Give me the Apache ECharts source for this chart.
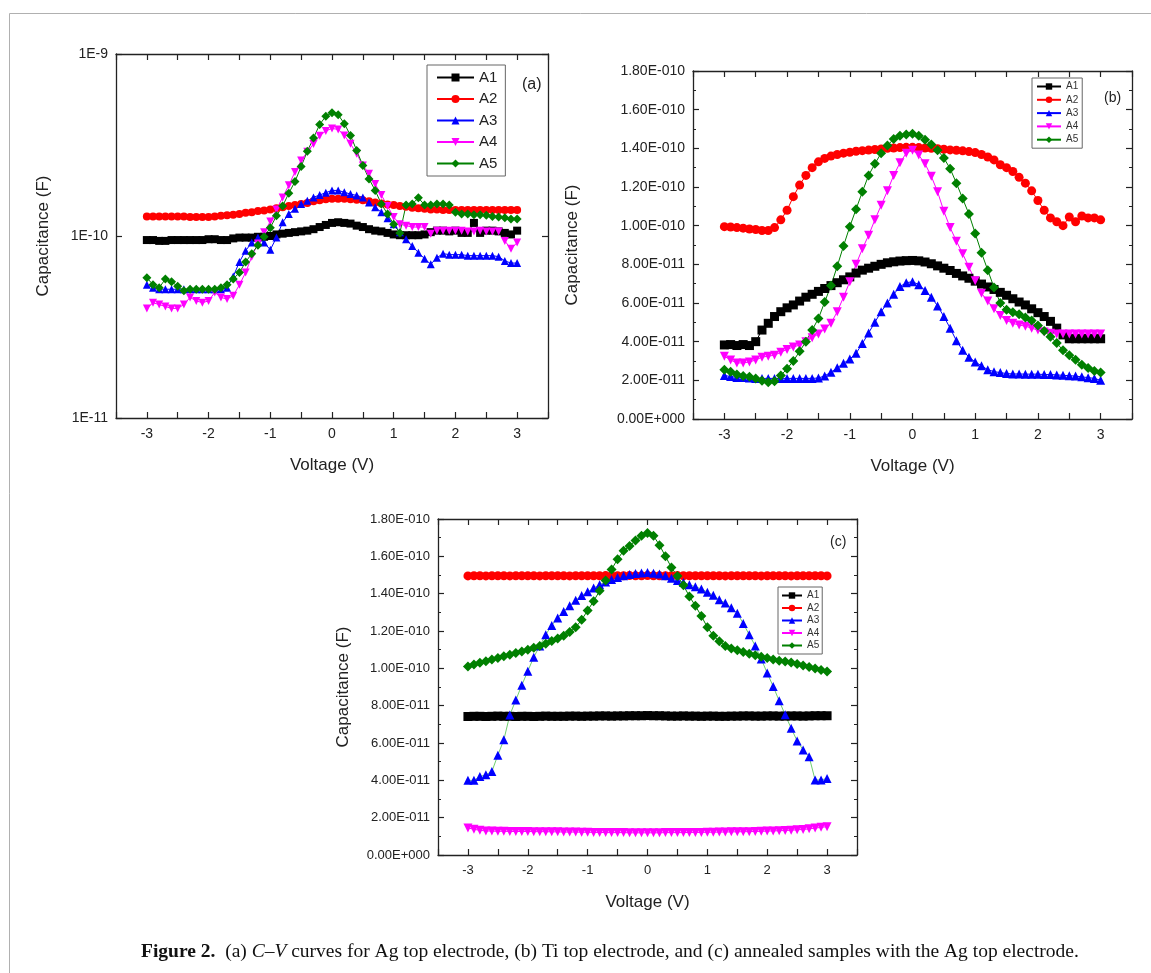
<!DOCTYPE html>
<html>
<head>
<meta charset="utf-8">
<title>Figure 2 - C-V curves</title>
<script src="https://cdn.jsdelivr.net/npm/echarts@6/dist/echarts.min.js"></script>
<style>
  html, body { margin: 0; padding: 0; background: #fff; }
  #chart { width: 1151px; height: 973px; }
</style>
</head>
<body>
<div id="chart"></div>
<script>
// voltage sweep (V), same for all panels
const volts = [-3.0, -2.9, -2.8, -2.7, -2.6, -2.5, -2.4, -2.3, -2.2, -2.1,
  -2.0, -1.9, -1.8, -1.7, -1.6, -1.5, -1.4, -1.3, -1.2, -1.1,
  -1.0, -0.9, -0.8, -0.7, -0.6, -0.5, -0.4, -0.3, -0.2, -0.1,
  0.0, 0.1, 0.2, 0.3, 0.4, 0.5, 0.6, 0.7, 0.8, 0.9,
  1.0, 1.1, 1.2, 1.3, 1.4, 1.5, 1.6, 1.7, 1.8, 1.9,
  2.0, 2.1, 2.2, 2.3, 2.4, 2.5, 2.6, 2.7, 2.8, 2.9, 3.0];

// capacitances are in pF (1 pF = 1E-12 F)
// (a) Ag top electrode
const agA1 = [95, 95, 94, 94, 95, 95, 95, 95, 95, 95, 96, 96, 95, 95, 97, 98, 98, 98, 99, 99,
  100, 102, 103, 104, 105, 106, 107, 109, 112, 115, 118, 119, 118, 117, 114, 112, 109, 107, 106, 104,
  102, 101, 101, 101, 101, 102, 105, 107, 107, 106, 107, 104, 104, 118, 104, 107, 107, 106, 104, 102, 107];
const agA2 = [128, 128, 128, 128, 128, 128, 128, 127, 127, 127, 127, 128, 129, 130, 131, 132, 134, 135, 137, 138,
  140, 142, 144, 146, 148, 150, 152, 155, 157, 159, 160, 160, 160, 159, 158, 157, 155, 153, 151, 149,
  148, 146, 145, 143, 142, 141, 140, 140, 139, 139, 139, 139, 139, 139, 139, 139, 139, 139, 139, 139, 139];
const agA3 = [54, 52, 51, 51, 51, 51, 51, 51, 51, 51, 51, 51, 51, 52, 60, 72, 83, 92, 98, 92,
  84, 98, 119, 132, 141, 150, 156, 163, 168, 173, 178, 178, 174, 170, 167, 163, 153, 144, 135, 125,
  116, 105, 96, 88, 81, 75, 70, 76, 80, 79, 79, 79, 78, 78, 78, 78, 78, 77, 73, 71, 71];
const agA4 = [40, 43, 42, 41, 40, 40, 42, 46, 44, 43, 44, 49, 46, 45, 47, 54, 63, 77, 91, 105,
  120, 140, 163, 190, 225, 260, 290, 320, 355, 378, 390, 385, 357, 321, 283, 244, 220, 193, 168, 146,
  127, 116, 114, 112, 112, 112, 103, 107, 107, 107, 107, 107, 106, 106, 107, 106, 106, 106, 94, 85, 92];
const agA5 = [59, 54, 52, 58, 56, 53, 50, 51, 51, 51, 51, 51, 52, 54, 58, 63, 72, 80, 89, 99,
  111, 129, 146, 172, 199, 241, 292, 345, 410, 455, 476, 464, 414, 357, 295, 244, 206, 178, 150, 132,
  116, 104, 148, 150, 162, 148, 148, 150, 150, 148, 135, 132, 132, 131, 131, 130, 128, 127, 126, 124, 124];

// (b) Ti top electrode
const tiA1 = [38.3, 38.5, 38, 38.5, 38, 40, 46, 49.5, 53, 55.5, 57.5, 59, 61, 63, 64.5, 66, 67.5, 69, 70.5, 72,
  73.5, 75.5, 77, 78, 79, 80, 80.8, 81.3, 81.7, 81.9, 82, 81.8, 81.2, 80.3, 79.2, 78, 76.8, 75.3, 74, 72.8,
  71.3, 69.8, 68.3, 67, 65.5, 64, 62.2, 60.5, 59, 57, 55, 53, 50.5, 47, 43.5, 41.5, 41.5, 41.5, 41.5, 41.5, 41.5];
const tiA2 = [99.5, 99.3, 99, 98.7, 98.3, 98, 97.5, 97.5, 99, 103, 108, 115, 121, 126, 130, 133, 134.8, 136, 136.8, 137.5,
  138, 138.5, 138.8, 139.1, 139.4, 139.7, 140, 140.2, 140.4, 140.5, 140.5, 140.4, 140.2, 140, 139.8, 139.5, 139.2, 139, 138.7, 138.3,
  137.8, 136.8, 135.5, 134, 131.5, 130, 128, 125, 122, 118, 113, 108, 104, 102, 100, 104.5, 102, 105, 104, 104, 103];
const tiA3 = [22.5, 22, 21.5, 21.5, 21.2, 21, 21, 21, 21, 21, 21, 21, 21, 21, 21, 21.2, 22.3, 24.2, 26.5, 28.8,
  31, 34, 39, 44.5, 50, 55.5, 60, 64.5, 68.5, 70.5, 71, 69.5, 66.5, 63, 58.5, 53, 47, 40.5, 35.5, 32,
  29.5, 27.5, 25.5, 24.5, 24, 23.5, 23.3, 23.3, 23.2, 23.2, 23.2, 23, 23, 22.8, 22.6, 22.4, 22.2, 21.8, 21.4, 21, 20];
const tiA4 = [32.5, 30.5, 29, 29, 29.5, 30.5, 32, 32.5, 33, 34.5, 36, 37.2, 38.3, 40, 42, 44, 46.5, 49.5, 55.5, 63,
  71, 80, 88, 95, 103, 110.5, 118, 126, 132.5, 137.5, 139, 136.5, 132, 125.5, 117.5, 107.5, 99, 92, 85.5, 78.5,
  71.5, 65, 61, 57, 53.5, 51, 49.5, 48.6, 48, 47, 46, 45, 44.3, 44, 44, 44, 44, 44, 44, 44, 44];
const tiA5 = [25.5, 24.5, 23, 22.2, 21.8, 21, 19.8, 19, 19.5, 22.5, 26, 30, 35, 40, 46, 52, 60.5, 69, 79, 89.5,
  99.5, 108.5, 117.5, 126, 132, 137.5, 141.5, 144.8, 146.5, 147.2, 147.5, 146.5, 144.5, 142, 139, 135, 129.5, 122, 114, 106,
  96, 86, 77, 68, 60, 56.5, 55.2, 54.2, 52.5, 51, 48.3, 45.5, 42.6, 39.3, 35.5, 33, 30.6, 28, 26.4, 24.8, 24];

// (c) annealed samples, Ag top electrode
const anA1 = [74.2, 74.3, 74.3, 74.2, 74.3, 74.4, 74.3, 74.3, 74.2, 74.3, 74.3, 74.2, 74.3, 74.4, 74.3, 74.3, 74.3, 74.4, 74.4, 74.3,
  74.4, 74.4, 74.5, 74.5, 74.4, 74.5, 74.5, 74.6, 74.6, 74.6, 74.7, 74.6, 74.6, 74.5, 74.4, 74.4, 74.5, 74.4, 74.4, 74.3,
  74.4, 74.4, 74.3, 74.3, 74.4, 74.4, 74.5, 74.5, 74.4, 74.4, 74.5, 74.5, 74.4, 74.4, 74.5, 74.5, 74.4, 74.5, 74.6, 74.6, 74.6];
const anA2 = [149.5, 149.6, 149.6, 149.5, 149.6, 149.6, 149.6, 149.5, 149.6, 149.6, 149.6, 149.6, 149.5, 149.6, 149.6, 149.6, 149.6, 149.5, 149.6, 149.6,
  149.6, 149.6, 149.6, 149.7, 149.6, 149.6, 149.6, 149.7, 149.6, 149.6, 149.7, 149.6, 149.6, 149.6, 149.6, 149.7, 149.6, 149.6, 149.6, 149.6,
  149.6, 149.6, 149.6, 149.5, 149.6, 149.6, 149.6, 149.6, 149.6, 149.5, 149.6, 149.6, 149.6, 149.6, 149.5, 149.6, 149.6, 149.6, 149.6, 149.6, 149.5];
const anA3 = [40, 40, 42, 43, 44.7, 53.5, 61.7, 75, 83, 91, 98.5, 106, 112, 118, 123, 127, 130.5, 133.5, 136.5, 139,
  141, 143, 144.8, 146.3, 147.6, 148.7, 149.6, 150.3, 150.8, 151.1, 151.3, 151, 150.6, 149.6, 148.3, 147, 146, 144.8, 143.7, 142.5,
  140.8, 139.2, 136.7, 135, 132.5, 129.5, 124, 118, 112, 105, 97.5, 90.3, 82.6, 75.1, 67.9, 61.1, 56.3, 52.7, 40.2, 40.2, 41];
const anA4 = [14.5, 13.8, 13.2, 12.9, 12.8, 12.7, 12.7, 12.6, 12.6, 12.6, 12.6, 12.5, 12.5, 12.5, 12.4, 12.4, 12.3, 12.3, 12.3, 12.2,
  12.2, 12.1, 12.1, 12.0, 12.0, 12.0, 12.0, 11.9, 11.9, 11.9, 11.9, 11.9, 11.9, 12.0, 12.0, 12.0, 12.0, 12.1, 12.1, 12.1,
  12.2, 12.2, 12.3, 12.3, 12.4, 12.4, 12.5, 12.5, 12.6, 12.7, 12.8, 12.9, 13.0, 13.1, 13.3, 13.5, 13.7, 14.0, 14.4, 14.8, 15.2];
const anA5 = [101, 102, 103, 103.8, 104.7, 105.6, 106.5, 107.3, 108.2, 109, 110, 111, 112, 113.2, 114.6, 116, 117.5, 119.5, 122, 126,
  131, 136, 141.5, 147, 153, 158.5, 163, 165.5, 168.5, 171, 172.5, 171, 166, 160, 154, 149.5, 144.5, 138.5, 133.5, 128,
  122, 117.5, 114.5, 112, 110.6, 109.7, 108.7, 107.8, 107, 106.2, 105.5, 104.7, 104.1, 103.7, 103.1, 102.3, 101.5, 100.7, 99.9, 99.1, 98.3];

const sampleNames = ['A1', 'A2', 'A3', 'A4', 'A5'];
const panelLabels = ['(a)', '(b)', '(c)'];
const captionText = '{b|Figure 2.}  (a) {i|C\u2013V} curves for Ag top electrode, (b) Ti top electrode, and (c) annealed samples with the Ag top electrode.';

const colors = ['#000000', '#ff0000', '#0000ff', '#ff00ff', '#008000'];
const symbols = ['rect', 'circle', 'triangle', 'triangle', 'diamond'];
const rotations = [0, 0, 0, 180, 0];

const SANS = 'Liberation Sans, Arial, sans-serif';
const SERIF = 'Liberation Serif, Times New Roman, serif';

const chart = echarts.init(document.getElementById('chart'), null, { renderer: 'canvas' });

// 1E-11 style labels for the log panel
function logLabel(v) {
  return '1E' + (Math.round(Math.log10(v)) - 12);
}
// 1.80E-010 style labels for the linear panels (input in pF)
function sciLabel(v) {
  if (Math.abs(v) < 1e-9) return '0.00E+000';
  const parts = (v * 1e-12).toExponential(2).split('e');
  const n = parseInt(parts[1], 10);
  return parts[0] + 'E' + (n < 0 ? '-' : '+') + String(Math.abs(n)).padStart(3, '0');
}
function voltLabel(v) {
  if (Math.abs(v - Math.round(v)) > 1e-6 || Math.abs(v) > 3.01) return '';
  return String(Math.round(v));
}

const grids = [
  { left: 116, top: 54, width: 432, height: 364 },
  { left: 693, top: 71, width: 439, height: 348 },
  { left: 438, top: 519, width: 419, height: 336 }
];

const axisLine = { show: true, onZero: false, lineStyle: { color: '#222', width: 1.3 } };
const tick = { show: true, inside: true, length: 6, lineStyle: { color: '#222', width: 1.2 } };

const xAxes = [];
const yAxes = [];
const nameGapY = [64, 112, 86];
const labelSize = [14, 14, 13];

grids.forEach((g, gi) => {
  xAxes.push({
    type: 'value', gridIndex: gi, position: 'bottom', min: -3.5, max: 3.5, interval: 0.5,
    axisLine: axisLine, axisTick: tick, splitLine: { show: false },
    axisLabel: { formatter: voltLabel, margin: 9, fontSize: labelSize[gi], color: '#222', fontFamily: SANS },
    name: 'Voltage (V)', nameLocation: 'middle', nameGap: 39,
    nameTextStyle: { fontSize: 17, color: '#222', fontFamily: SANS }
  });
  xAxes.push({
    type: 'value', gridIndex: gi, position: 'top', min: -3.5, max: 3.5, interval: 0.5,
    axisLine: axisLine, axisTick: tick, splitLine: { show: false }, axisLabel: { show: false }
  });

  const isLog = gi === 0;
  const yBase = isLog
    ? { type: 'log', logBase: 10, min: 10, max: 1000 }
    : { type: 'value', min: 0, max: 180, interval: 20,
        minorTick: { show: true, splitNumber: 2, length: 3, lineStyle: { color: '#222' } } };
  yAxes.push(Object.assign({}, yBase, {
    gridIndex: gi, position: 'left',
    axisLine: axisLine, axisTick: tick, splitLine: { show: false }, minorSplitLine: { show: false },
    axisLabel: { formatter: isLog ? logLabel : sciLabel, margin: 8, fontSize: labelSize[gi], color: '#222', fontFamily: SANS },
    name: 'Capacitance (F)', nameLocation: 'middle', nameGap: nameGapY[gi], nameRotate: 90,
    nameTextStyle: { fontSize: 17, color: '#222', fontFamily: SANS }
  }));
  yAxes.push(Object.assign({}, yBase, {
    gridIndex: gi, position: 'right',
    axisLine: axisLine, axisTick: tick, splitLine: { show: false }, minorSplitLine: { show: false },
    axisLabel: { show: false }
  }));
});

const panelData = [
  [agA1, agA2, agA3, agA4, agA5],
  [tiA1, tiA2, tiA3, tiA4, tiA5],
  [anA1, anA2, anA3, anA4, anA5]
];
const symbolSizes = [8, 9, 9];

const series = [];
panelData.forEach((set, gi) => {
  set.forEach((vals, si) => {
    let lineColor = colors[si];
    if (gi === 2 && si === 2) lineColor = '#6fcf6f'; // annealed A3 joined by a pale green line
    series.push({
      name: sampleNames[si],
      type: 'line',
      xAxisIndex: gi * 2,
      yAxisIndex: gi * 2,
      data: volts.map((v, i) => [v, vals[i]]),
      symbol: symbols[si],
      symbolRotate: rotations[si],
      symbolSize: si === 4 ? symbolSizes[gi] + 1 : symbolSizes[gi],
      showSymbol: true,
      lineStyle: { color: lineColor, width: 1 },
      itemStyle: { color: colors[si] },
      emphasis: { disabled: true }
    });
  });
});

const legends = [
  { left: 427, top: 65, itemWidth: 37, itemHeight: 10, itemGap: 6.5, padding: [5, 8, 5, 9],
    textStyle: { fontSize: 15, color: '#222', fontFamily: SANS } },
  { left: 1032, top: 78, itemWidth: 24, itemHeight: 8, itemGap: 2.3, padding: [3, 4, 3, 4],
    textStyle: { fontSize: 10, lineHeight: 11, color: '#333', fontFamily: SANS } },
  { left: 778, top: 587, itemWidth: 20, itemHeight: 8, itemGap: 1.5, padding: [3, 3, 3, 3],
    textStyle: { fontSize: 10, lineHeight: 11, color: '#333', fontFamily: SANS } }
].map(l => Object.assign({
  orient: 'vertical', data: sampleNames, borderColor: '#666', borderWidth: 1,
  backgroundColor: '#fff', selectedMode: false, itemStyle: { borderWidth: 0 }
}, l));

const titles = [
  { text: panelLabels[0], left: 517, top: 72, textStyle: { fontSize: 16, fontWeight: 'normal', color: '#222', fontFamily: SANS } },
  { text: panelLabels[1], left: 1099, top: 86, textStyle: { fontSize: 14, fontWeight: 'normal', color: '#222', fontFamily: SANS } },
  { text: panelLabels[2], left: 825, top: 530, textStyle: { fontSize: 14, fontWeight: 'normal', color: '#222', fontFamily: SANS } },
  {
    text: captionText, left: 136, top: 937,
    textStyle: {
      fontSize: 19.5, fontWeight: 'normal', color: '#111', fontFamily: SERIF,
      rich: {
        b: { fontSize: 19.5, fontWeight: 'bold', color: '#111', fontFamily: SERIF },
        i: { fontSize: 19.5, fontStyle: 'italic', color: '#111', fontFamily: SERIF }
      }
    }
  }
];

chart.setOption({
  backgroundColor: '#ffffff',
  animation: false,
  title: titles,
  legend: legends,
  grid: grids.map(g => Object.assign({ containLabel: false, outerBoundsMode: 'none' }, g)),
  xAxis: xAxes,
  yAxis: yAxes,
  series: series,
  graphic: [{
    type: 'rect', silent: true, z: -10,
    shape: { x: 9.5, y: 13.5, width: 1200, height: 1000 },
    style: { fill: 'none', stroke: '#b0b0b0', lineWidth: 1 }
  }]
});
</script>
</body>
</html>
